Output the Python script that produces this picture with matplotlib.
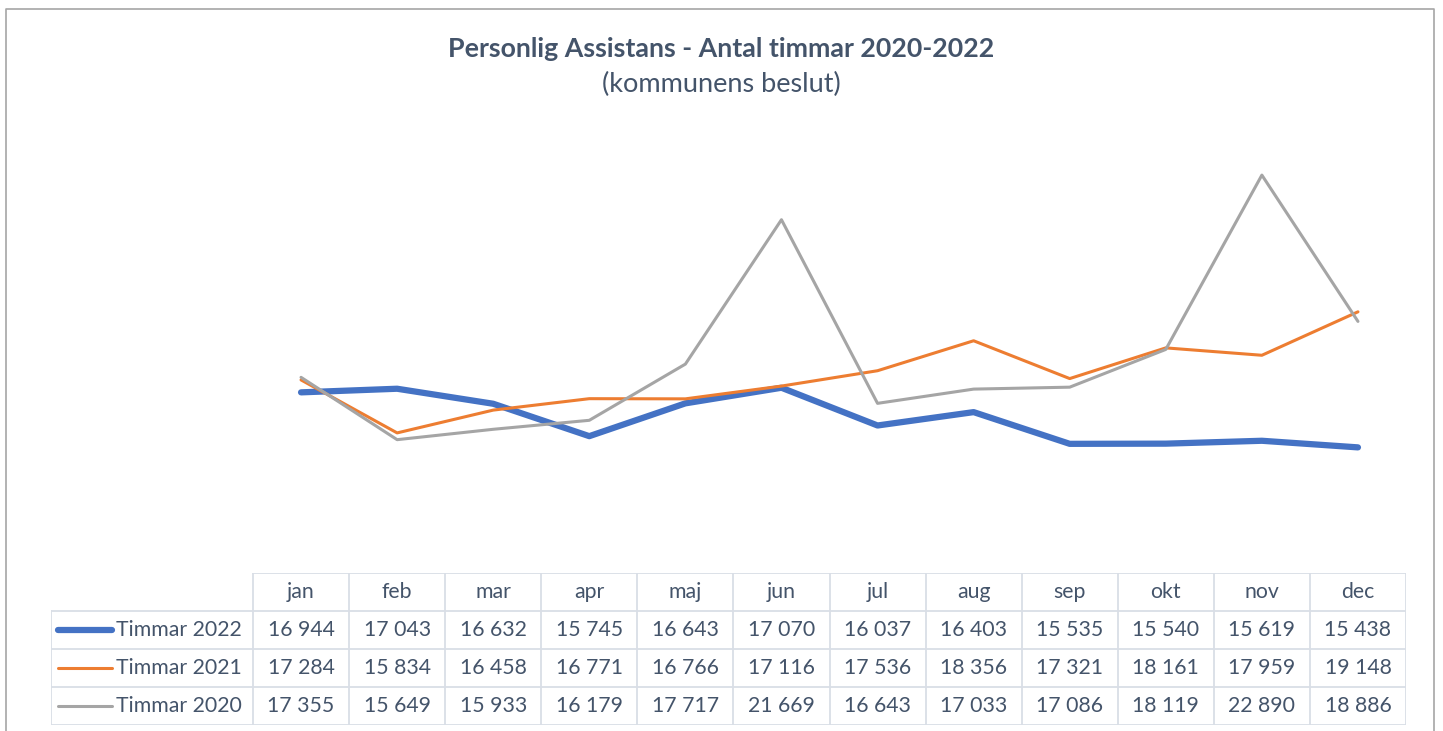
import matplotlib.pyplot as plt
from matplotlib.lines import Line2D

plt.rcParams['font.family'] = ['Lato', 'DejaVu Sans']

months = ["jan", "feb", "mar", "apr", "maj", "jun", "jul", "aug", "sep", "okt", "nov", "dec"]
series_names = ["Timmar 2022", "Timmar 2021", "Timmar 2020"]
timmar_2022 = [16944, 17043, 16632, 15745, 16643, 17070, 16037, 16403, 15535, 15540, 15619, 15438]
timmar_2021 = [17284, 15834, 16458, 16771, 16766, 17116, 17536, 18356, 17321, 18161, 17959, 19148]
timmar_2020 = [17355, 15649, 15933, 16179, 17717, 21669, 16643, 17033, 17086, 18119, 22890, 18886]

colors = ["#4472C4", "#ED7D31", "#A5A5A5"]
widths = [4.5, 2.2, 2.2]
text_color = "#44546A"
grid_color = "#D9DEE6"

W, H = 1443, 731
fig = plt.figure(figsize=(W / 100, H / 100), dpi=100)

def px_axes(x0, y0, x1, y1):
    return fig.add_axes([x0 / W, 1 - y1 / H, (x1 - x0) / W, (y1 - y0) / H])

# outer chart border
fig.add_artist(Line2D([6 / W, 6 / W, 1434 / W, 1434 / W], [0, 1 - 9 / H, 1 - 9 / H, 0],
                      color="#A6A6A6", lw=1.2, transform=fig.transFigure))

fig.text(721 / W, 1 - 49 / H, "Personlig Assistans - Antal timmar 2020-2022",
         ha="center", va="center", fontsize=19.3, fontweight="bold", color=text_color)
fig.text(721 / W, 1 - 84 / H, "(kommunens beslut)",
         ha="center", va="center", fontsize=19.5, color=text_color)

# line plot
ax = px_axes(253, 98, 1406, 573)
x = range(len(months))
all_series = [timmar_2022, timmar_2021, timmar_2020]
for vals, c, lw in zip(all_series, colors, widths):
    ax.plot(x, vals, color=c, lw=lw, solid_capstyle="round", solid_joinstyle="round")
ax.set_xlim(-0.5, len(months) - 0.5)
ax.set_ylim(12000, 25000)
ax.axis("off")

# data table
col_w = (1406 - 253) / 12
label_left = -0.5 - (253 - 51) / col_w
tax = px_axes(51, 573, 1406, 725)
tax.set_xlim(label_left, len(months) - 0.5)
tax.set_ylim(4, 0)
tax.axis("off")

lw_grid = 1.3
# horizontal lines
tax.plot([-0.5, 11.5], [0, 0], color=grid_color, lw=lw_grid)
for r in range(1, 5):
    tax.plot([label_left, 11.5], [r, r], color=grid_color, lw=lw_grid)
# vertical lines
for c in range(13):
    tax.plot([c - 0.5, c - 0.5], [0, 4], color=grid_color, lw=lw_grid)
tax.plot([label_left, label_left], [1, 4], color=grid_color, lw=lw_grid)

fs = 15.3
for i, m in enumerate(months):
    tax.text(i, 0.5, m, ha="center", va="center", fontsize=fs, color=text_color)

for r, (name, vals, c, lw) in enumerate(zip(series_names, all_series, colors, widths), start=1):
    tax.plot([label_left + 0.07, label_left + 0.63], [r + 0.5, r + 0.5], color=c,
             lw=lw, solid_capstyle="round")
    tax.text(label_left + 0.68, r + 0.5, name, ha="left", va="center", fontsize=fs, color=text_color)
    for i, v in enumerate(vals):
        tax.text(i, r + 0.5, f"{v:,}".replace(",", " "), ha="center", va="center",
                 fontsize=fs, color=text_color)

fig.savefig("out.png", dpi=100)
